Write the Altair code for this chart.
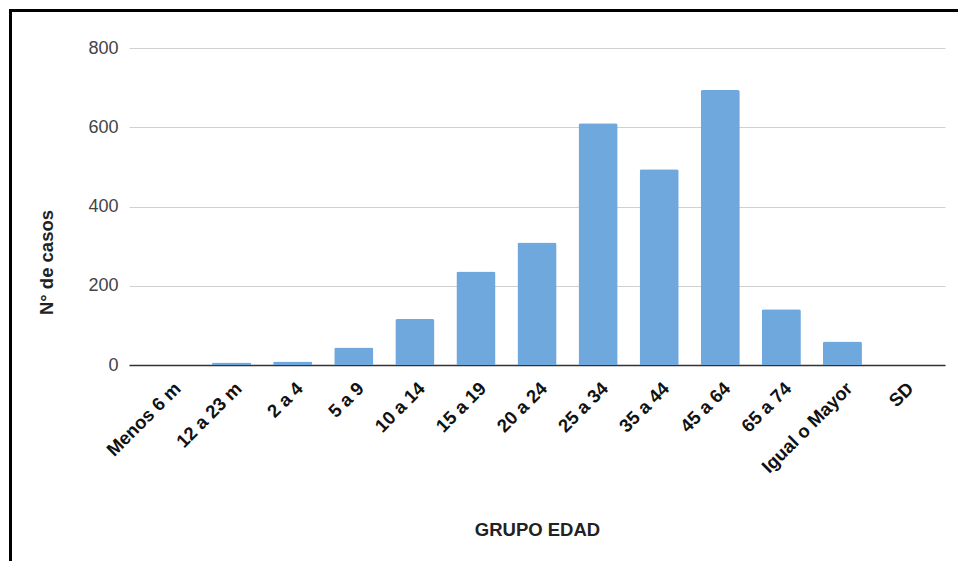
import altair as alt
import pandas as pd

# Casos por grupo de edad
grupos = ["Menos 6 m", "12 a 23 m", "2 a 4", "5 a 9", "10 a 14", "15 a 19",
          "20 a 24", "25 a 34", "35 a 44", "45 a 64", "65 a 74",
          "Igual o Mayor", "SD"]
casos = [0, 6, 9, 44, 116, 236, 309, 610, 494, 694, 141, 59, 0]

df = pd.DataFrame({"grupo": grupos, "casos": casos})

FONT = "Liberation Sans"
W, H = 816, 317
PAD_L, PAD_T = 129, 48

bars = alt.Chart(df).mark_bar(
    color="#6fa8dc", cornerRadiusTopLeft=2, cornerRadiusTopRight=2
).encode(
    x=alt.X(
        "grupo:N", sort=grupos,
        scale=alt.Scale(paddingInner=0.36, paddingOuter=0.36),
        axis=alt.Axis(
            title="GRUPO EDAD", titleFont=FONT, titleFontSize=18.5,
            titleFontWeight="bold", titleColor="#222",
            titleBaseline="alphabetic", titleY=170, titleX=W / 2,
            labelAngle=-45, labelAlign="right", labelBaseline="middle",
            labelFont=FONT, labelFontSize=18.5, labelFontWeight="bold",
            labelColor="#111", labelPadding=20, labelOffset=7,
            ticks=False, domainColor="#333", domainWidth=1.5,
            labelOverlap=False,
        ),
    ),
    y=alt.Y(
        "casos:Q",
        scale=alt.Scale(domain=[0, 800], nice=False),
        axis=alt.Axis(
            title="N° de casos", titleFont=FONT, titleFontSize=18.5,
            titleFontWeight="bold", titleColor="#222",
            titleAngle=-90, titleBaseline="middle", titleX=-83, titleY=214,
            values=[0, 200, 400, 600, 800], labelFont=FONT, labelFontSize=18,
            labelColor="#444", labelPadding=11, ticks=False, domain=False,
            gridColor="#d0d0d0", gridWidth=1,
        ),
    ),
)

one = pd.DataFrame({"k": [0]})

# Marco del gráfico (bordes superior e izquierdo)
left_edge = alt.Chart(one).mark_rule(color="black", strokeWidth=3).encode(
    x=alt.value(10.5 - PAD_L), y=alt.value(10 - PAD_T), y2=alt.value(561 - PAD_T)
)
top_edge = alt.Chart(one).mark_rule(color="black", strokeWidth=3).encode(
    x=alt.value(9 - PAD_L), x2=alt.value(958 - PAD_L), y=alt.value(10.5 - PAD_T)
)

chart = alt.layer(bars, left_edge, top_edge).properties(
    width=W, height=H,
    autosize=alt.AutoSizeParams(type="none"),
    padding={"left": PAD_L, "top": PAD_T, "right": 958 - PAD_L - W,
             "bottom": 561 - PAD_T - H},
    background="white",
).configure_view(stroke=None)

chart.save("out.html", embed_options={"renderer": "svg", "actions": False})
